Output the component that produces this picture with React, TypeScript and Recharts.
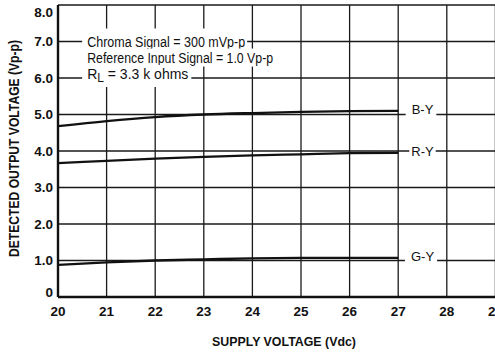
import React from 'react';
import { LineChart, Line, XAxis, YAxis, CartesianGrid, ReferenceDot } from 'recharts';

// supply voltage (Vdc) sampled along the curves
const supplyVoltage = [20, 21, 22, 23, 24, 25, 26, 27];
// detected output voltage (Vp-p)
const byOutput = [4.68, 4.82, 4.93, 5.0, 5.04, 5.07, 5.09, 5.1];
const ryOutput = [3.67, 3.73, 3.79, 3.84, 3.88, 3.91, 3.94, 3.95];
const gyOutput = [0.88, 0.95, 1.0, 1.03, 1.06, 1.07, 1.07, 1.07];

const xTicks = [20, 21, 22, 23, 24, 25, 26, 27, 28, 29];
const yTicks = [0, 1, 2, 3, 4, 5, 6, 7, 8];
const yTickLabels = ['0', '1.0', '2.0', '3.0', '4.0', '5.0', '6.0', '7.0', '8.0'];

const chartData = supplyVoltage.map((v, i) => ({
  v,
  by: byOutput[i],
  ry: ryOutput[i],
  gy: gyOutput[i],
}));

const FONT = "'Liberation Sans', Arial, sans-serif";
const INK = '#111';

let canvas: HTMLCanvasElement | null = null;
function textWidth(text: string, size: number, weight: number | string) {
  if (!canvas) canvas = document.createElement('canvas');
  const ctx = canvas.getContext('2d');
  if (!ctx) return text.length * size * 0.5;
  ctx.font = `${weight} ${size}px ${FONT}`;
  return ctx.measureText(text).width;
}

// text with a white box behind it, so the grid is broken where the text sits
function BoxText(props: any) {
  const { viewBox, text, sub, rest, len, size = 14, weight = 400, anchor = 'start', padL = 4, padR = 4, padT = 2, padB = 2 } = props;
  if (!viewBox) return null;
  const { x, y } = viewBox;
  let w = len || textWidth(text, size, weight);
  if (sub) w += textWidth(sub, size * 0.85, weight) + textWidth(rest, size, weight);
  const left = anchor === 'middle' ? x - w / 2 : x;
  return (
    <g>
      <rect x={left - padL} y={y - size / 2 - padT} width={w + padL + padR} height={size + padT + padB} fill="#fff" />
      <text x={left} y={y} dy="0.36em" fontFamily={FONT} fontSize={size} fontWeight={weight} fill={INK}
        {...(len ? { textLength: len, lengthAdjust: 'spacingAndGlyphs' } : {})}>
        {text}
        {sub && (
          <>
            <tspan dy={3} fontSize={size * 0.85}>{sub}</tspan>
            <tspan dy={-3}>{rest}</tspan>
          </>
        )}
      </text>
    </g>
  );
}

const XTick = (props: any) => {
  const { x, payload } = props;
  return (
    <text x={x} y={297} dy={19.4} textAnchor="middle" fontFamily={FONT} fontSize={13.5} fontWeight={700} fill={INK}>
      {payload.value}
    </text>
  );
};

const YTick = (props: any) => {
  const { y, payload } = props;
  const v = payload.value;
  const shift = v === 8 ? 7 : v === 0 ? -5 : 0;
  return (
    <text x={53} y={y + shift} dy="0.36em" textAnchor="end" fontFamily={FONT} fontSize={13.5} fontWeight={700} fill={INK}>
      {yTickLabels[yTicks.indexOf(v)]}
    </text>
  );
};

const XTitle = (props: any) => {
  const vb = props.viewBox;
  if (!vb) return null;
  return (
    <text x={vb.x + 226} y={341} textAnchor="middle" dy="0.36em" fontFamily={FONT} fontSize={13} fontWeight={700} fill={INK}
      textLength={144} lengthAdjust="spacingAndGlyphs">
      SUPPLY VOLTAGE (Vdc)
    </text>
  );
};

const YTitle = (props: any) => {
  const vb = props.viewBox;
  if (!vb) return null;
  const cx = 14;
  const cy = 148.5;
  return (
    <text x={cx} y={cy} textAnchor="middle" dy="0.36em" transform={`rotate(-90 ${cx} ${cy})`} fontFamily={FONT} fontSize={14} fontWeight={700} fill={INK}
      textLength={217} lengthAdjust="spacingAndGlyphs">
      DETECTED OUTPUT VOLTAGE (Vp-p)
    </text>
  );
};

export default function App() {
  return (
    <div style={{ position: 'absolute', left: 0, top: 0, width: 495, height: 356, overflow: 'hidden', background: '#fff' }}>
      <LineChart width={560} height={356} data={chartData} margin={{ top: 5, right: 16, bottom: 0, left: 0 }}>
        <CartesianGrid stroke="#1a1a1a" strokeWidth={1.3} />
        <XAxis
          dataKey="v"
          type="number"
          domain={[20, 30]}
          ticks={xTicks}
          interval={0}
          height={59}
          tickLine={false}
          axisLine={{ stroke: INK, strokeWidth: 2.4 }}
          tick={<XTick />}
          label={<XTitle />}
        />
        <YAxis
          type="number"
          domain={[0, 8]}
          ticks={yTicks}
          interval={0}
          width={58}
          tickLine={false}
          axisLine={{ stroke: INK, strokeWidth: 2.4 }}
          tick={<YTick />}
          label={<YTitle />}
        />
        <Line type="monotone" dataKey="by" stroke={INK} strokeWidth={2.3} dot={false} isAnimationActive={false} />
        <Line type="monotone" dataKey="ry" stroke={INK} strokeWidth={2.3} dot={false} isAnimationActive={false} />
        <Line type="monotone" dataKey="gy" stroke={INK} strokeWidth={2.3} dot={false} isAnimationActive={false} />

        <ReferenceDot x={20.6} y={7.0} r={0} fill="none" stroke="none"
          label={<BoxText text="Chroma Signal = 300 mVp-p" len={158} padL={5} padR={2} padT={6} />} />
        <ReferenceDot x={20.6} y={6.56} r={0} fill="none" stroke="none"
          label={<BoxText text="Reference Input Signal = 1.0 Vp-p" len={186} padL={5} padR={2} />} />
        <ReferenceDot x={20.6} y={6.11} r={0} fill="none" stroke="none"
          label={<BoxText text="R" sub="L" rest=" = 3.3 k ohms" padL={5} padR={3} padB={6} />} />

        <ReferenceDot x={27.5} y={5.13} r={0} fill="none" stroke="none"
          label={<BoxText text="B-Y" size={13} anchor="middle" padL={6} padR={3} padB={4} />} />
        <ReferenceDot x={27.5} y={4.0} r={0} fill="none" stroke="none"
          label={<BoxText text="R-Y" size={13} anchor="middle" padL={2} padR={2} padT={-1} padB={-1} />} />
        <ReferenceDot x={27.5} y={1.12} r={0} fill="none" stroke="none"
          label={<BoxText text="G-Y" size={13} anchor="middle" padL={6} padR={3} padB={4} />} />
      </LineChart>
    </div>
  );
}
